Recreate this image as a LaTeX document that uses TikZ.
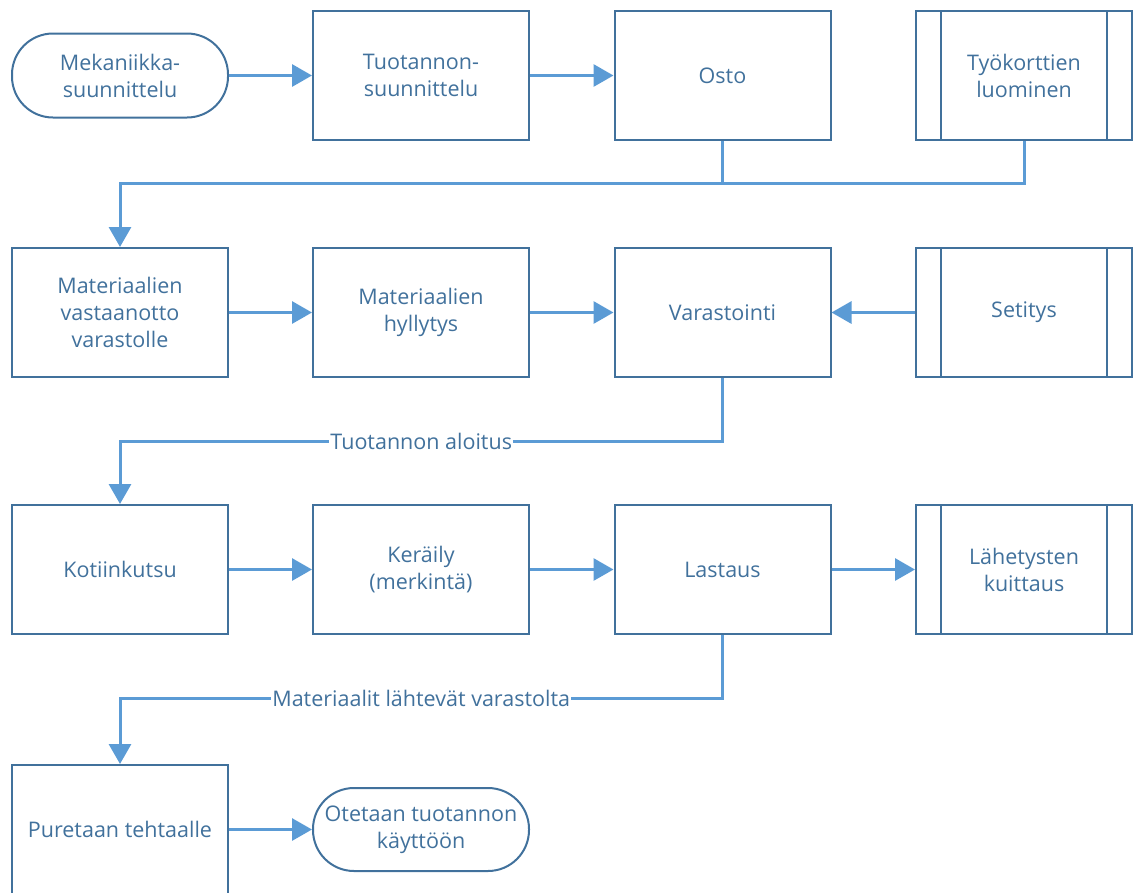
\documentclass[tikz,border=0pt]{standalone}
\usepackage{fontspec}
\setmainfont{Open Sans}
\usetikzlibrary{arrows.meta}
\definecolor{boxline}{HTML}{41719C}
\definecolor{connline}{HTML}{5B9BD5}
\definecolor{txt}{HTML}{41719C}
\begin{document}
\begin{tikzpicture}[x=1pt,y=-1pt,
  every node/.style={font=\fontsize{21.5}{27}\selectfont, text=txt, align=center},
  proc/.style={draw=boxline, line width=2pt, minimum width=216pt, minimum height=129pt, inner sep=0pt},
  term/.style={draw=boxline, line width=2pt, rounded corners=41pt, minimum width=216pt, minimum height=84pt, inner sep=0pt},
  flow/.style={draw=connline, line width=3pt, -{Triangle[length=20pt,width=22pt]}},
  link/.style={draw=connline, line width=3pt},
  lbl/.style={fill=white, inner sep=1pt, text=txt}
]
\useasboundingbox (0,0) rectangle (1133,892);

% row 1
\node[term] (mek) at (120,75.5) {Mekaniikka-\\suunnittelu};
\node[proc] (tuo) at (421,75.5) {Tuotannon-\\suunnittelu};
\node[proc] (osto) at (722.5,75.5) {Osto};
\node[proc] (tyo) at (1024,75.5) {Työkorttien\\luominen};

% row 2
\node[proc] (vast) at (120,312.5) {Materiaalien\\vastaanotto\\varastolle};
\node[proc] (hyl) at (421,312.5) {Materiaalien\\hyllytys};
\node[proc] (var) at (722.5,312.5) {Varastointi};
\node[proc] (set) at (1024,312.5) {Setitys};

% row 3
\node[proc] (koti) at (120,569.5) {Kotiinkutsu};
\node[proc] (ker) at (421,569.5) {Keräily\\(merkintä)};
\node[proc] (las) at (722.5,569.5) {Lastaus};
\node[proc] (lah) at (1024,569.5) {Lähetysten\\kuittaus};

% row 4
\node[proc] (pur) at (120,829.5) {Puretaan tehtaalle};
\node[term, minimum height=83pt] (ote) at (421,829.5) {Otetaan tuotannon\\käyttöön};

% side bars of the predefined-process boxes
\foreach \n in {tyo,set,lah}{
  \draw[boxline, line width=2pt] ([xshift=26pt]\n.north west) -- ([xshift=26pt]\n.south west);
  \draw[boxline, line width=2pt] ([xshift=-26pt]\n.north east) -- ([xshift=-26pt]\n.south east);
}

% horizontal flows
\draw[flow] (mek) -- (tuo);
\draw[flow] (tuo) -- (osto);
\draw[flow] (vast) -- (hyl);
\draw[flow] (hyl) -- (var);
\draw[flow] (set) -- (var);
\draw[flow] (koti) -- (ker);
\draw[flow] (ker) -- (las);
\draw[flow] (las) -- (lah);
\draw[flow] (pur) -- (ote);

% row transitions
\coordinate (j1) at (722.5,183);
\draw[link] (tyo.south) |- (j1);
\draw[flow] (osto.south) -- (j1) -| (vast.north);

\coordinate (j2) at (722.5,441);
\coordinate (k2) at (120,441);
\draw[flow] (var.south) -- (j2) -- node[lbl]{Tuotannon aloitus} (k2) -- (koti.north);

\coordinate (j3) at (722.5,698);
\coordinate (k3) at (120,698);
\draw[flow] (las.south) -- (j3) -- node[lbl]{Materiaalit lähtevät varastolta} (k3) -- (pur.north);
\end{tikzpicture}
\end{document}
